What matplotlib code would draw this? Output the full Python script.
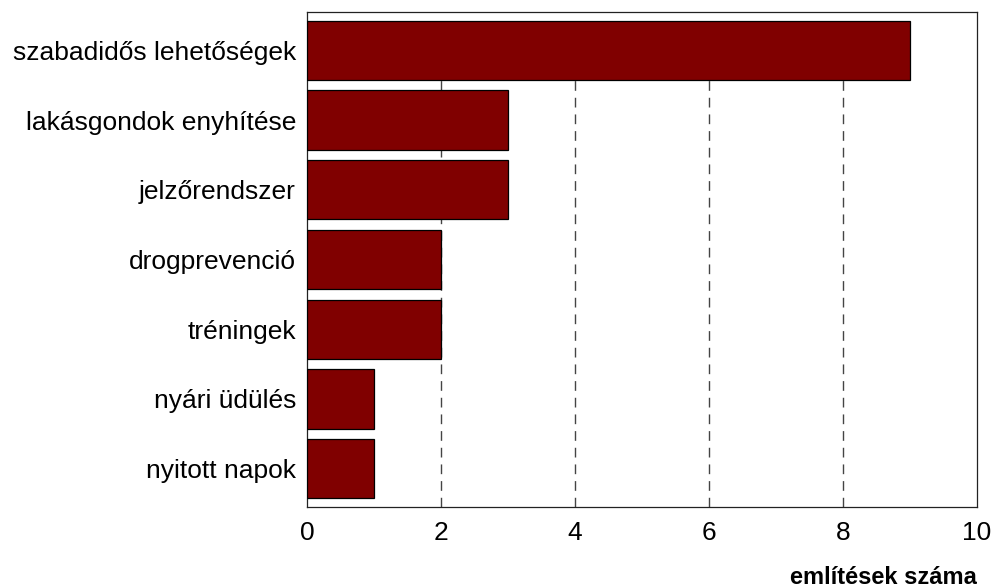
import matplotlib
matplotlib.use("Agg")
import matplotlib.pyplot as plt

categories = ["szabadidős lehetőségek", "lakásgondok enyhítése", "jelzőrendszer",
              "drogprevenció", "tréningek", "nyári üdülés", "nyitott napok"]
values = [9, 3, 3, 2, 2, 1, 1]
xticks = [0, 2, 4, 6, 8, 10]
xlabel = "említések száma"

plt.rcParams['font.family'] = ['Liberation Sans', 'DejaVu Sans']

fig = plt.figure(figsize=(9.95, 5.88), dpi=100)
ax = fig.add_axes([307/995, 1-507/588, (977-307)/995, (507-12)/588])

n = len(categories)
ypos = list(range(n))[::-1]
bh = 0.85
ax.barh(ypos, values, height=bh, color="#800000", edgecolor="black", linewidth=0.9, zorder=3)
ymin, ymax = -0.55, n - 0.45
ax.set_ylim(ymin, ymax)
ax.set_xlim(0, 10)
ax.set_xticks(xticks)
ax.set_xticklabels([str(t) for t in xticks], fontsize=19)
ax.set_yticks(ypos)
ax.set_yticklabels(categories, fontsize=19)
ax.tick_params(axis='x', length=0, pad=10)
ax.tick_params(axis='y', length=0, pad=8)
# gridlines drawn behind bars, from bottom up to the bottom of the top bar
top_grid = (n - 1) - bh / 2
ax.vlines(xticks[1:-1], ymin, top_grid, colors="#444444", linestyles=(0, (7, 5)), linewidth=1.0, zorder=1)
for s in ax.spines.values():
    s.set_linewidth(0.9)
    s.set_color("#222222")
fig.text(977/995, 1-577/588, xlabel, ha="right", va="center", fontsize=17, fontweight="bold")

fig.savefig("out.png", dpi=100)
